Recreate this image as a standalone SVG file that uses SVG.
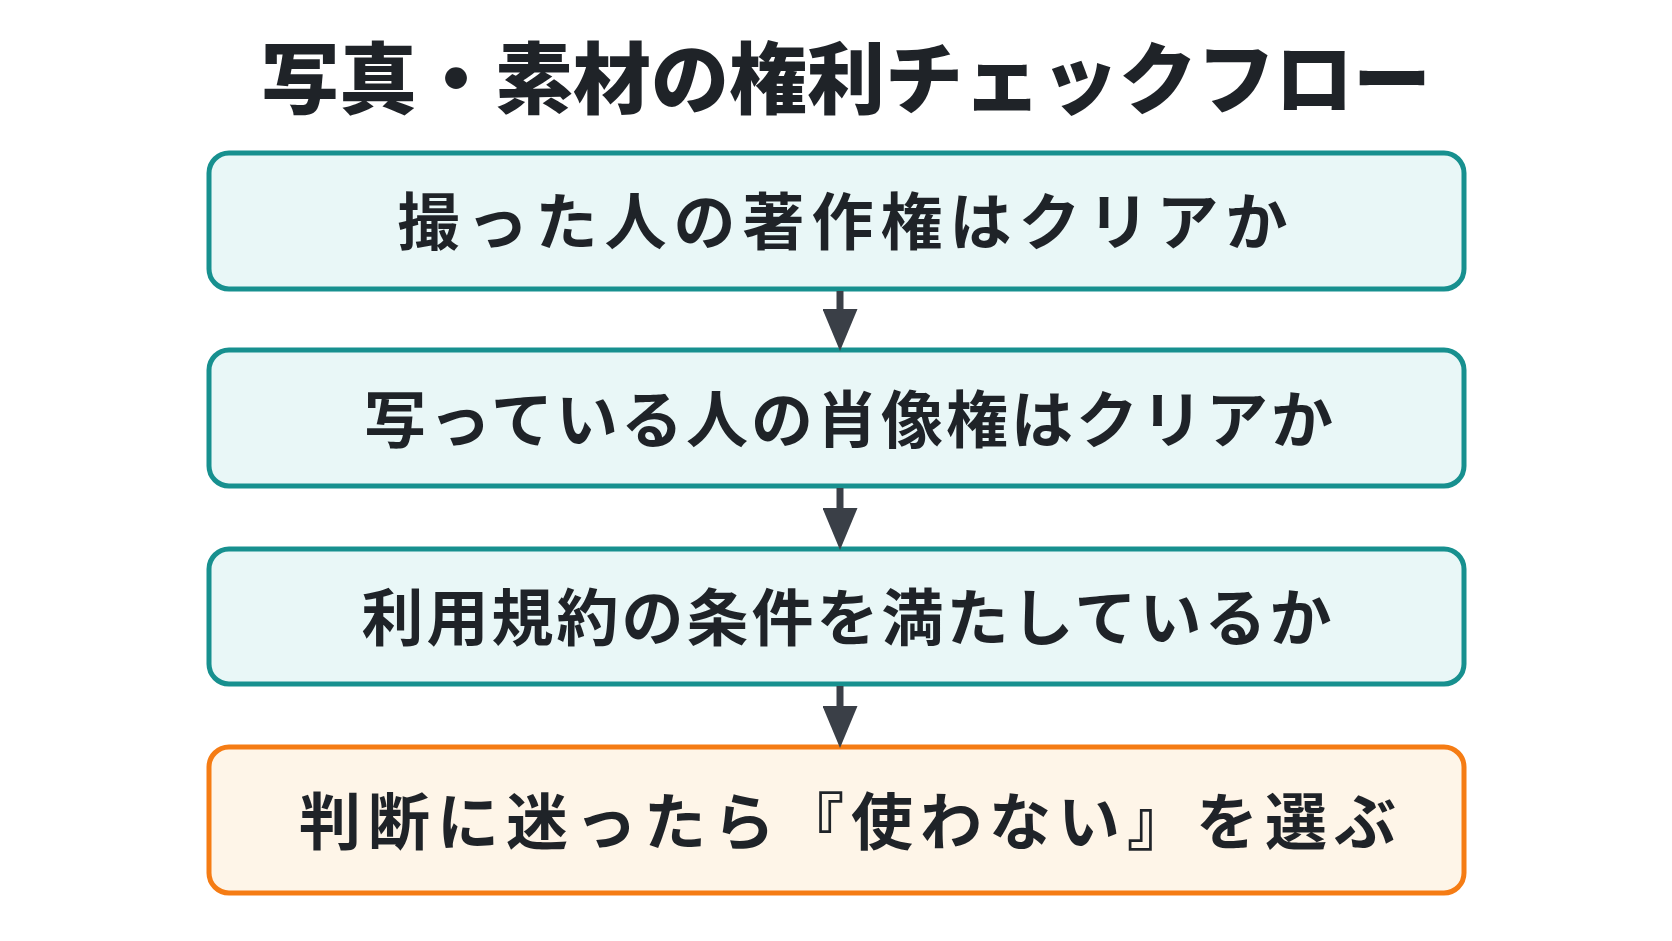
<svg xmlns="http://www.w3.org/2000/svg" width="1672" height="941" viewBox="0 0 1672 941">
<style>
text{font-family:"Noto Sans CJK JP",sans-serif;font-weight:700;fill:#1f2328;text-anchor:middle;dominant-baseline:central}
.t{font-size:62px}
.b{fill:#e9f7f7;stroke:#17908f;stroke-width:5}
.o{fill:#fef5e8;stroke:#f57c14;stroke-width:5}
.c{stroke:#3a3f47;stroke-width:7}
</style>
<defs><marker id="a" markerWidth="6" markerHeight="5" refX="3" refY="2.5" orient="auto" markerUnits="strokeWidth"><path d="M0,0L6,2.5L0,5z" fill="#3a3f47"/></marker></defs>
<rect width="1672" height="941" fill="#fff"/>
<text x="846" y="74" style="font-size:78px;font-weight:900">写真・素材の権利チェックフロー</text>
<g id="n1"><rect class="b" x="209" y="153" width="1255" height="136" rx="20"/><text class="t" x="846" y="218" style="letter-spacing:7px">撮った人の著作権はクリアか</text></g>
<g id="n2"><rect class="b" x="209" y="350" width="1255" height="136" rx="20"/><text class="t" x="850" y="416" style="letter-spacing:3px">写っている人の肖像権はクリアか</text></g>
<g id="n3"><rect class="b" x="209" y="549" width="1255" height="135" rx="20"/><text class="t" x="848" y="614" style="letter-spacing:3px">利用規約の条件を満たしているか</text></g>
<g id="n4"><rect class="o" x="209" y="747" width="1255" height="146" rx="20"/><text class="t" x="851" y="818" style="letter-spacing:7px">判断に迷ったら『使わない』を選ぶ</text></g>
<g id="edges">
<line class="c" x1="840" y1="291" x2="840" y2="330" marker-end="url(#a)"/>
<line class="c" x1="840" y1="488" x2="840" y2="529" marker-end="url(#a)"/>
<line class="c" x1="840" y1="686" x2="840" y2="727" marker-end="url(#a)"/>
</g>
</svg>
